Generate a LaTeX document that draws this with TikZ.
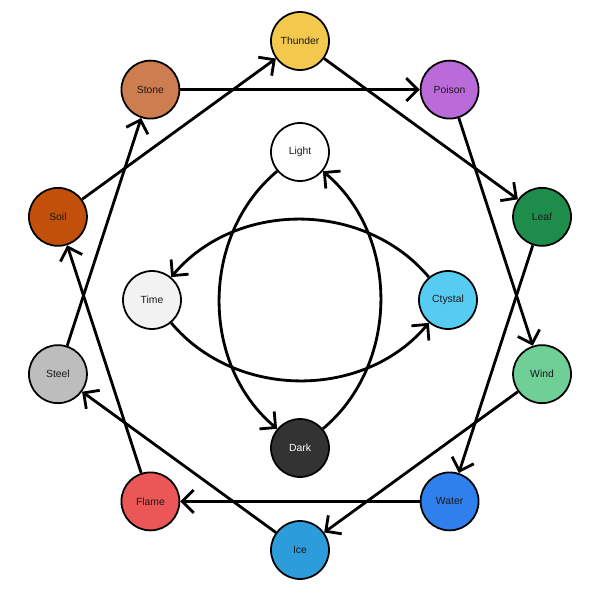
\documentclass[tikz,border=0pt]{standalone}
\usepackage{fontspec}
\setmainfont{Liberation Sans}
\usetikzlibrary{arrows.meta,calc}

\definecolor{cThunder}{HTML}{F2C94C}
\definecolor{cPoison}{HTML}{BB6BD9}
\definecolor{cLeaf}{HTML}{1E8C4B}
\definecolor{cWind}{HTML}{6FCF97}
\definecolor{cWater}{HTML}{2F80ED}
\definecolor{cIce}{HTML}{2D9CDB}
\definecolor{cFlame}{HTML}{EB5757}
\definecolor{cSteel}{HTML}{BDBDBD}
\definecolor{cSoil}{HTML}{C3500A}
\definecolor{cStone}{HTML}{CD7D50}
\definecolor{cLight}{HTML}{FFFFFF}
\definecolor{cCtystal}{HTML}{56CCF2}
\definecolor{cDark}{HTML}{333333}
\definecolor{cTime}{HTML}{F2F2F2}
\definecolor{ink}{HTML}{1A1A1A}

\tikzset{
    elem/.style={circle, draw=black, line width=1pt, minimum size=1.16cm,
                 inner sep=0pt, font=\fontsize{5.9}{7}\selectfont},
    beats/.style={line width=1.6pt, -{Straight Barb[length=6.5pt,width=13pt]}},
}

\begin{document}
\begin{tikzpicture}
    \useasboundingbox (-6,-6.04) rectangle (6,5.96);

    % outer ring
    \foreach \n/ \a/ \t in {Thunder/90/ink, Poison/54/ink, Leaf/18/ink,
                            Wind/-18/ink, Water/-54/ink, Ice/-90/ink,
                            Flame/-126/ink, Steel/-162/ink, Soil/162/ink,
                            Stone/126/ink}
        \node[elem, fill=c\n, text=\t] (\n) at ($(0,0.05)+(\a:5.09)$) {\n};

    % inner ring
    \foreach \n/ \a/ \t in {Light/90/ink, Ctystal/0/ink, Dark/-90/white,
                            Time/180/ink}
        \node[elem, fill=c\n, text=\t] (\n) at ($(0,-0.04)+(\a:2.96)$) {\n};

    \foreach \s/ \e in {Thunder/Leaf, Poison/Wind, Leaf/Water, Wind/Ice,
                        Water/Flame, Ice/Steel, Flame/Soil, Steel/Stone,
                        Soil/Thunder, Stone/Poison}
        \path[draw, beats] (\s) -- (\e);

    \foreach \s/ \e in {Light/Dark, Dark/Light, Ctystal/Time, Time/Ctystal}
        \path[draw, beats] (\s) to[bend right=50] (\e);

\end{tikzpicture}
\end{document}
